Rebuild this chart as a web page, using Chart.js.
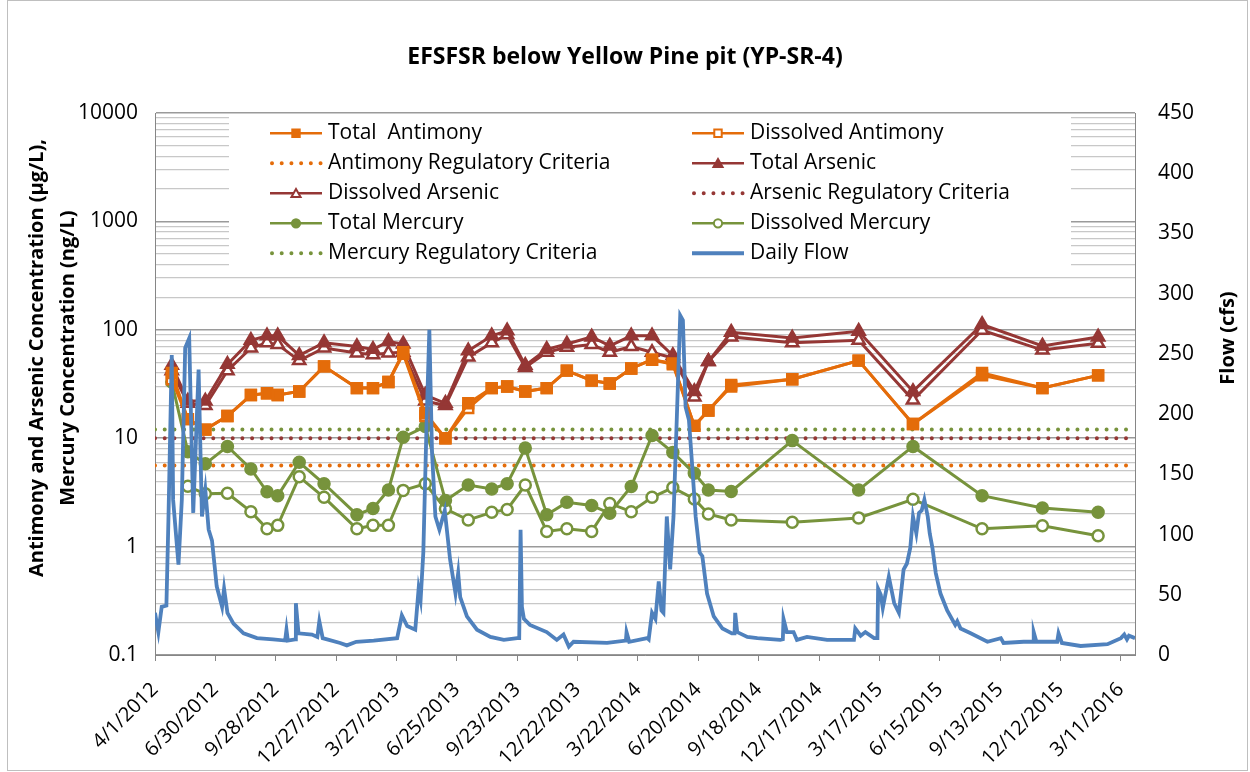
<!DOCTYPE html>
<html>
<head>
<meta charset="utf-8">
<title>EFSFSR below Yellow Pine pit (YP-SR-4)</title>
<script src="https://cdn.jsdelivr.net/npm/chart.js@4.4.0/dist/chart.umd.min.js"></script>
<style>
  html, body { margin: 0; padding: 0; background: #fff; }
</style>
</head>
<body>
<canvas id="chart" width="1250" height="772"></canvas>
<script>
// sampling dates (water quality samples)
var sampleDates = ['2012-04-26','2012-05-20','2012-06-15','2012-07-18','2012-08-22','2012-09-15','2012-10-01',
  '2012-11-02','2012-12-09','2013-01-27','2013-02-20','2013-03-15','2013-04-06','2013-05-09','2013-06-08',
  '2013-07-12','2013-08-16','2013-09-08','2013-10-05','2013-11-06','2013-12-06','2014-01-12','2014-02-08',
  '2014-03-12','2014-04-12','2014-05-13','2014-06-14','2014-07-05','2014-08-08','2014-11-07','2015-02-14',
  '2015-05-06','2015-08-17','2015-11-15','2016-02-06'];

// ug/L
var totalAntimony = [40, 15, 12, 16, 25, 26, 25, 27, 46, 29, 29, 33, 62, 17, 10, 21, 29, 30, 27, 29, 42, 34, 32, 44, 53, 49, 13, 18, 31, 35, 52, 13.5, 40, 29, 38];
var dissolvedAntimony = [35, 15, 12, 16, 25, 26, 25, 27, 46, 29, 29, 33, 60, 16, 10, 19, 29, 30, 27, 29, 42, 34, 32, 44, 53, 48, 13, 18, 30, 35, 52, 13.5, 38, 29, 38];
var totalArsenic = [47, 22, 22, 48, 80, 88, 88, 58, 76, 70, 66, 78, 74, 25, 21, 64, 88, 98, 47, 66, 74, 86, 71, 88, 88, 58, 27, 51, 95, 84, 97, 27, 112, 71, 86];
var dissolvedArsenic = [42, 21, 20, 42, 68, 76, 73, 52, 68, 61, 59, 61, 62, 22, 20, 56, 76, 90, 45, 62, 69, 73, 62, 70, 62, 55, 24, 51, 86, 76, 80, 22.5, 99, 65, 75];
// ng/L
var totalMercury = [33, 7.5, 5.8, 8.4, 5.2, 3.2, 2.95, 6.0, 3.8, 1.97, 2.25, 3.33, 10.2, 12.8, 2.66, 3.7, 3.4, 3.8, 8.1, 1.97, 2.56, 2.39, 2.03, 3.58, 10.6, 7.4, 4.74, 3.33, 3.23, 9.5, 3.33, 8.4, 2.95, 2.27, 2.07];
var dissolvedMercury = [null, 3.6, 3.07, 3.1, 2.1, 1.46, 1.57, 4.4, 2.85, 1.46, 1.57, 1.57, 3.3, 3.8, 2.23, 1.76, 2.07, 2.2, 3.7, 1.38, 1.46, 1.38, 2.5, 2.1, 2.85, 3.5, 2.75, 2.0, 1.76, 1.68, 1.84, 2.73, 1.46, 1.56, 1.26];

var antimonyCriteria = 5.6;
var arsenicCriteria = 10;
var mercuryCriteria = 12;

// daily flow: days since 4/1/2012 and cfs
var flowDay = [0, 5, 10, 17, 20, 25, 27, 35, 40, 45, 51, 57, 65, 70, 75, 80, 85, 92, 100, 103, 108, 117, 132, 152, 176,
  194, 196, 198, 209, 210, 214, 234, 242, 245, 250, 276, 286, 300, 326, 361, 368, 376, 388, 393, 396, 400, 405, 409,
  413, 418, 424, 428, 432, 440, 448, 452, 455, 465, 480, 500, 520, 540, 543, 545, 547, 550, 559, 584, 599, 609, 617,
  624, 674, 702, 703, 707, 734, 736, 741, 746, 751, 755, 758, 763, 768, 773, 778, 783, 787, 791, 796, 801, 806, 812,
  816, 823, 833, 846, 860, 864, 865, 868, 883, 898, 932, 936, 937, 942, 952, 957, 972, 1002, 1022, 1042, 1044, 1052,
  1059, 1072, 1077, 1078, 1082, 1085, 1094, 1102, 1109, 1116, 1121, 1126, 1130, 1135, 1139, 1143, 1147, 1152, 1155,
  1159, 1164, 1171, 1181, 1193, 1196, 1201, 1216, 1241, 1261, 1265, 1295, 1309, 1310, 1314, 1345, 1347, 1352, 1380,
  1420, 1440, 1445, 1449, 1452, 1461];
var flowCfs = [35, 19, 40, 41, 112, 249, 129, 75, 129, 255, 263, 118, 237, 115, 137, 104, 95, 57, 40, 55, 35, 26, 18, 14, 13,
  12, 21, 12, 13, 43, 18, 17, 15, 28, 14, 10, 8, 11, 12, 14, 33, 24, 21, 55, 46, 85, 195, 270,
  168, 115, 104, 112, 120, 79, 51, 68, 48, 32, 21, 15, 12.5, 14, 14, 104, 40, 30, 25, 19, 12.5, 17, 7,
  11, 10, 12, 19, 11, 14, 13, 35, 30, 61, 37, 35, 115, 71, 115, 198, 282, 278, 206, 195, 156, 115, 85,
  82, 51, 32, 22, 18, 18, 35, 19, 15, 14, 12.5, 13, 30, 19, 19, 12.5, 15, 12.5, 12.5, 12.5, 22, 16,
  19, 14, 14, 55, 50, 39, 65, 43, 35, 71, 76, 89, 115, 101, 118, 120, 129, 115, 101,
  89, 68, 51, 37, 25, 28, 22, 18, 11, 14, 10, 11, 11, 19, 11, 11, 18, 10, 7.5,
  9, 14, 17, 13, 16, 14];

var ORANGE = '#E46C0A', RED = '#953735', GREEN = '#77933C', BLUE = '#4F81BD';
var FONT = "'Open Sans', sans-serif";

var start = Date.UTC(2012, 3, 1);
function dayOf(s) {
  var p = s.split('-');
  return (Date.UTC(+p[0], +p[1] - 1, +p[2]) - start) / 86400000;
}
function fmtDay(d) {
  var t = new Date(start + d * 86400000);
  return (t.getUTCMonth() + 1) + '/' + t.getUTCDate() + '/' + t.getUTCFullYear();
}
var xMax = dayOf('2016-04-01');
var xDays = sampleDates.map(dayOf);
function pts(vals) {
  return vals.map(function (v, i) { return { x: xDays[i], y: v }; });
}

function series(label, vals, color, style, radius, filled) {
  return {
    label: label, data: pts(vals), yAxisID: 'y', order: 1,
    borderColor: color, backgroundColor: color, borderWidth: 3, tension: 0, spanGaps: true,
    pointStyle: style, pointRadius: radius, pointBorderWidth: 2.5,
    pointBackgroundColor: filled ? color : '#fff', pointBorderColor: color
  };
}
function criteria(label, v, color) {
  return {
    label: label, data: [{ x: 0, y: v }, { x: xMax, y: v }], yAxisID: 'y', order: 2,
    borderColor: color, borderWidth: 4, borderDash: [0.01, 9.7], borderCapStyle: 'round', pointRadius: 0
  };
}

var datasets = [
  series('Total  Antimony', totalAntimony, ORANGE, 'rect', 7, true),
  series('Dissolved Antimony', dissolvedAntimony, ORANGE, 'rect', 7, false),
  criteria('Antimony Regulatory Criteria', antimonyCriteria, ORANGE),
  series('Total Arsenic', totalArsenic, RED, 'triangle', 7, true),
  series('Dissolved Arsenic', dissolvedArsenic, RED, 'triangle', 7, false),
  criteria('Arsenic Regulatory Criteria', arsenicCriteria, RED),
  series('Total Mercury', totalMercury, GREEN, 'circle', 5.5, true),
  series('Dissolved Mercury', dissolvedMercury, GREEN, 'circle', 5.5, false),
  criteria('Mercury Regulatory Criteria', mercuryCriteria, GREEN),
  {
    label: 'Daily Flow', yAxisID: 'y2', order: 0,
    data: flowDay.map(function (d, i) { return { x: d, y: flowCfs[i] }; }),
    borderColor: BLUE, backgroundColor: BLUE, borderWidth: 3.8, pointRadius: 0, tension: 0
  }
];

// gridlines at 1..9 x 10^n
var logTicks = [];
for (var e = -1; e <= 3; e++) {
  for (var m = 1; m <= 9; m++) logTicks.push(+(m * Math.pow(10, e)).toPrecision(3));
}
logTicks.push(10000);
function isPow10(v) {
  var l = Math.log10(v);
  return Math.abs(l - Math.round(l)) < 1e-9;
}

function marker(ctx, style, x, y, r, fill, color, bw) {
  ctx.beginPath();
  if (style === 'rect') {
    var s = r * Math.SQRT1_2;
    ctx.rect(x - s, y - s, 2 * s, 2 * s);
  } else if (style === 'triangle') {
    ctx.moveTo(x, y - r);
    ctx.lineTo(x + r * 0.866, y + r / 2);
    ctx.lineTo(x - r * 0.866, y + r / 2);
    ctx.closePath();
  } else {
    ctx.arc(x, y, r, 0, Math.PI * 2);
  }
  ctx.fillStyle = fill;
  ctx.fill();
  ctx.lineWidth = bw;
  ctx.strokeStyle = color;
  ctx.stroke();
}

var extras = {
  id: 'extras',
  afterDraw: function (chart) {
    var ctx = chart.ctx;
    ctx.save();

    // legend box inside plot
    ctx.fillStyle = '#fff';
    ctx.fillRect(229, 114, 842, 154);
    var cols = [270, 692];
    chart.data.datasets.forEach(function (ds, i) {
      var x0 = cols[i % 2], y = 133.3 + Math.floor(i / 2) * 30;
      ctx.beginPath();
      ctx.setLineDash(ds.borderDash || []);
      ctx.lineCap = ds.borderDash ? 'round' : 'butt';
      ctx.lineWidth = ds.borderDash ? 4 : (ds.yAxisID === 'y2' ? 4 : 2.5);
      ctx.strokeStyle = ds.borderColor;
      ctx.moveTo(x0 + (ds.borderDash ? 2 : 0), y);
      ctx.lineTo(x0 + 52, y);
      ctx.stroke();
      ctx.setLineDash([]);
      if (ds.pointRadius) {
        marker(ctx, ds.pointStyle, x0 + 26, y + (ds.pointStyle === 'triangle' ? 1 : 0), ds.pointRadius * 0.75,
          ds.pointBackgroundColor, ds.borderColor, 2);
      }
      ctx.fillStyle = '#000';
      ctx.font = '21px ' + FONT;
      ctx.textAlign = 'left';
      ctx.textBaseline = 'middle';
      ctx.fillText(ds.label, x0 + 58, y);
    });

    // axis titles
    ctx.fillStyle = '#000';
    ctx.font = 'bold 20px ' + FONT;
    ctx.textAlign = 'center';
    ctx.textBaseline = 'middle';
    ctx.save();
    ctx.translate(37, 358);
    ctx.rotate(-Math.PI / 2);
    ctx.fillText('Antimony and Arsenic Concentration (\u00b5g/L),', 0, 0);
    ctx.fillText('Mercury Concentration (ng/L)', 0, 31);
    ctx.restore();
    ctx.save();
    ctx.translate(1228, 338);
    ctx.rotate(-Math.PI / 2);
    ctx.fillText('Flow (cfs)', 0, 0);
    ctx.restore();

    // chart frame
    ctx.strokeStyle = '#bfbfbf';
    ctx.lineWidth = 1;
    ctx.strokeRect(7.5, 0.5, 1240, 770);
    ctx.restore();
  }
};

Chart.defaults.font.family = FONT;
Chart.defaults.color = '#000';

new Chart(document.getElementById('chart'), {
  type: 'line',
  data: { datasets: datasets },
  plugins: [extras],
  options: {
    responsive: false,
    devicePixelRatio: 1,
    animation: false,
    layout: { padding: 0 },
    plugins: {
      legend: { display: false },
      tooltip: { enabled: false },
      title: {
        display: true,
        text: 'EFSFSR below Yellow Pine pit (YP-SR-4)',
        color: '#000',
        font: { family: FONT, size: 23, weight: 'bold', lineHeight: 1.2 },
        padding: { top: 44, bottom: 41.4 }
      }
    },
    scales: {
      x: {
        type: 'linear', min: 0, max: xMax,
        afterFit: function (s) { s.height = 117; },
        grid: { drawOnChartArea: false, color: '#868686', tickLength: 6 },
        border: { color: '#868686' },
        ticks: {
          stepSize: 90, includeBounds: false, autoSkip: false, minRotation: 45, maxRotation: 45, padding: 17,
          font: { size: 20 }, color: '#000',
          callback: function (v) { return fmtDay(v); }
        }
      },
      y: {
        type: 'logarithmic', position: 'left', min: 0.1, max: 10000,
        afterFit: function (s) { s.width = 155; },
        afterBuildTicks: function (s) { s.ticks = logTicks.map(function (v) { return { value: v, major: isPow10(v) }; }); },
        grid: {
          drawTicks: false,
          color: function (c) { return c.tick && isPow10(c.tick.value) ? '#9a9a9a' : '#c8c8c8'; },
          lineWidth: function (c) { return c.tick && isPow10(c.tick.value) ? 1.5 : 1.2; }
        },
        border: { color: '#868686' },
        ticks: {
          autoSkip: false, padding: 17, font: { size: 21 }, color: '#000',
          callback: function (v) { return isPow10(v) ? String(v) : ''; }
        }
      },
      y2: {
        type: 'linear', position: 'right', min: 0, max: 450,
        afterFit: function (s) { s.width = 115; },
        grid: { drawOnChartArea: false, drawTicks: false },
        border: { color: '#868686' },
        ticks: { stepSize: 50, padding: 23, font: { size: 21 }, color: '#000' }
      }
    }
  }
});
</script>
</body>
</html>
